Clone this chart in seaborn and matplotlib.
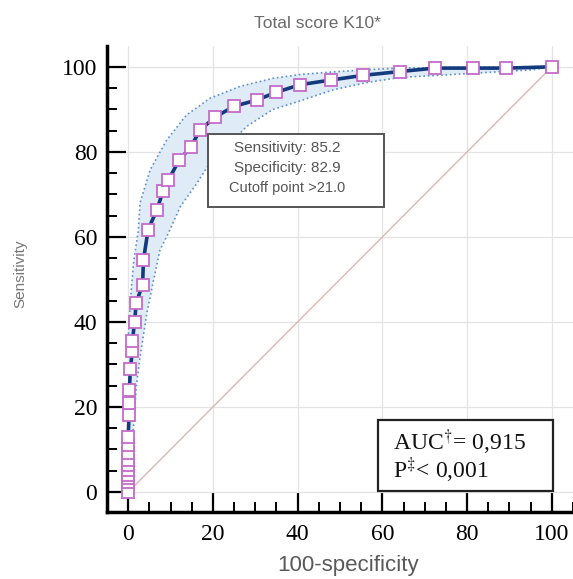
import matplotlib
matplotlib.use("Agg")
import matplotlib.pyplot as plt
import seaborn as sns
import numpy as np
import pandas as pd
from matplotlib.patches import Rectangle
from matplotlib.ticker import MultipleLocator

# ---- data ----
fpr = [0, 0, 0, 0, 0, 0, 0, 0, 0, 0, 0.2, 0.3, 0.3, 0.5, 1.0, 1.0, 1.5, 1.9,
       3.4, 3.6, 4.7, 6.8, 8.2, 9.5, 12.0, 14.8, 17.0, 20.6, 24.9, 30.4, 34.9,
       40.6, 47.9, 55.5, 64.2, 72.4, 81.4, 89.2, 100]
tpr = [0, 2.4, 3.2, 4.0, 5.2, 6.4, 7.5, 9.1, 11.1, 13.0, 18.0, 21.0, 24.0, 29.0,
       33.2, 35.5, 40.0, 44.5, 48.8, 54.5, 61.7, 66.4, 70.7, 73.4, 78.0, 81.2,
       85.2, 88.2, 90.7, 92.2, 94.0, 95.8, 96.9, 98.0, 98.9, 99.7, 99.7, 99.7, 100]

ci_upper_x = [0, 0.1, 0.6, 1.25, 2.4, 2.8, 5.2, 9.1, 13.8, 19.3, 26.4, 34.2,
              40.6, 48.3, 59.4, 64.2, 80, 100]
ci_upper_y = [33, 38, 46, 53.8, 61.6, 68, 75.8, 82.8, 88.7, 92.6, 95.4, 97.3,
              98.2, 98.8, 99.5, 99.7, 99.9, 100]
ci_lower_x = [0, 0.5, 1.2, 1.65, 2.0, 2.8, 4.4, 6.0, 7.5, 9.5, 12.3, 16.2, 19.3,
              24.8, 28, 34.2, 40.6, 48.4, 56.3, 64.2, 80, 95.5, 100]
ci_lower_y = [0, 5, 14.6, 20.9, 25.6, 31.8, 42.0, 49.9, 56.9, 60.9, 67.1, 72.6,
              77.4, 82.8, 86, 90.0, 92.0, 94.6, 96.3, 97.5, 98.4, 99.3, 100]

diag_x = [0, 100]
diag_y = [0, 100]

xticks = [0, 20, 40, 60, 80, 100]
yticks = [0, 20, 40, 60, 80, 100]

title = "Total score K10*"
xlabel = "100-specificity"
ylabel = "Sensitivity"
info_lines = ["Sensitivity: 85.2", "Specificity: 82.9", "Cutoff point >21.0"]
auc_lines = [r"AUC$^{\dagger}$= 0,915", r"P$^{\ddagger}$< 0,001"]

# ---- style ----
sns.set_theme(style="white")
plt.rcParams["font.family"] = ["Liberation Serif", "DejaVu Serif"]
plt.rcParams["mathtext.fontset"] = "stix"

W, H = 573, 579
fig = plt.figure(figsize=(W / 100, H / 100), dpi=100)
ax = fig.add_axes([107 / W, 67 / H, 466 / W, 466 / H])

def fx(px):
    return px / W

def fy(py):
    return 1 - py / H

# CI band
poly_x = list(ci_upper_x) + list(ci_lower_x[::-1])
poly_y = list(ci_upper_y) + list(ci_lower_y[::-1])
ax.fill(poly_x, poly_y, color="#dfecf8", zorder=1, lw=0)
ax.plot(ci_upper_x, ci_upper_y, ls=":", color="#5e8fca", lw=1.2, zorder=2)
ax.plot(ci_lower_x, ci_lower_y, ls=":", color="#5e8fca", lw=1.2, zorder=2)

# diagonal
sns.lineplot(x=diag_x, y=diag_y, color="#dcb6b6", lw=1.0, ax=ax,
             estimator=None, sort=False, zorder=2)

# ROC curve
sns.lineplot(x=fpr, y=tpr, estimator=None, sort=False, ax=ax,
             color="#133a7c", lw=2.6, marker="s", markersize=8.3,
             markerfacecolor="white", markeredgecolor="#c46cc9",
             markeredgewidth=1.3, zorder=4)

ax.set_xlim(-5, 105)
ax.set_ylim(-4.7, 104.9)
ax.set_xticks(xticks)
ax.set_yticks(yticks)
ax.xaxis.set_minor_locator(MultipleLocator(5))
ax.yaxis.set_minor_locator(MultipleLocator(5))
ax.tick_params(which="major", direction="in", length=14, width=1.6,
               color="black", labelsize=17, labelcolor="black")
ax.tick_params(axis="x", which="major", pad=9)
ax.tick_params(axis="y", which="major", pad=7)
ax.tick_params(which="minor", direction="in", length=7.5, width=1.4,
               color="black", bottom=True, left=True)
ax.tick_params(which="both", bottom=True, left=True, top=False, right=False)

for s in ["top", "right"]:
    ax.spines[s].set_visible(False)
for s in ["left", "bottom"]:
    ax.spines[s].set_linewidth(2.5)
    ax.spines[s].set_color("black")

ax.grid(True, which="major", color="#e4e4e4", lw=0.9, zorder=0)
ax.set_axisbelow(True)
ax.set_xlabel("")
ax.set_ylabel("")

sans = ["Liberation Sans", "DejaVu Sans"]
fig.text(fx(317), fy(23), title, ha="center", va="center", fontsize=12.5,
         color="#6a6a6a", family=sans)
fig.text(fx(348), fy(566), xlabel, ha="center", va="center", fontsize=16,
         color="#595959", family=sans)
fig.text(fx(20), fy(274), ylabel, ha="center", va="center", fontsize=11,
         color="#777777", rotation=90, family=sans)

# info box
fig.patches.append(Rectangle((fx(208), fy(207)), (384 - 208) / W, (207 - 134) / H,
                             transform=fig.transFigure, facecolor="white",
                             edgecolor="#555555", lw=1.4, zorder=5))
for i, (t, fs) in enumerate(zip(info_lines, [11, 11, 10.5])):
    fig.text(fx(287), fy(148 + 20 * i), t, ha="center", va="center",
             fontsize=fs, color="#555555", family=sans, zorder=6)

# AUC box
fig.patches.append(Rectangle((fx(378), fy(491)), (553 - 378) / W, (491 - 420) / H,
                             transform=fig.transFigure, facecolor="white",
                             edgecolor="#222222", lw=1.6, zorder=5))
for i, t in enumerate(auc_lines):
    fig.text(fx(393), fy(442 + 28 * i), t, ha="left", va="center",
             fontsize=17, color="#111111", zorder=6)

fig.savefig("out.png", dpi=100)
